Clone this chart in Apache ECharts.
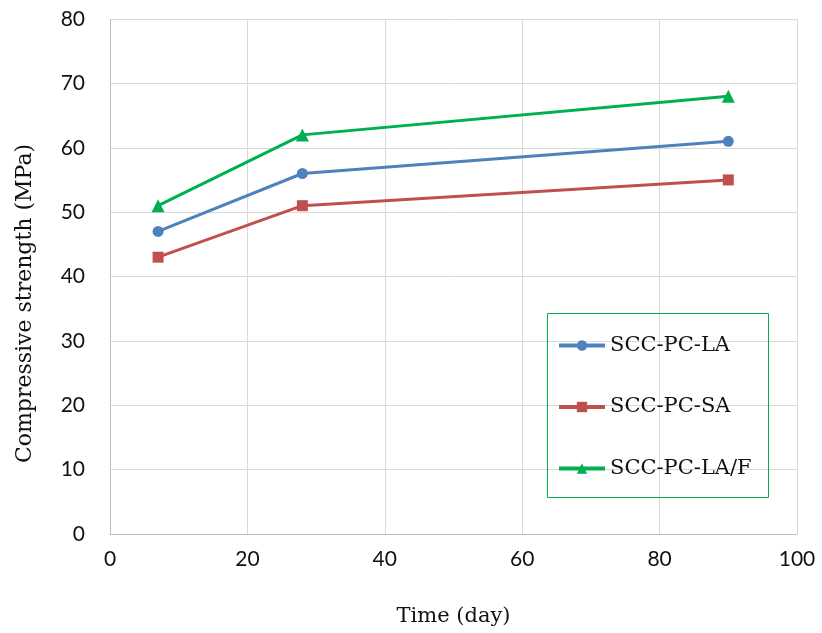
<!DOCTYPE html>
<html>
<head>
<meta charset="utf-8">
<script src="https://cdn.jsdelivr.net/npm/echarts@6/dist/echarts.min.js"></script>
<style>
  html, body { margin: 0; padding: 0; background: #fff; }
  #chart { width: 822px; height: 633px; }
</style>
</head>
<body>
<div id="chart"></div>
<script>
// Curing age (days) and compressive strength (MPa) of each mix
const days = [7, 28, 90];
const sccPcLa = [47, 56, 61];
const sccPcSa = [43, 51, 55];
const sccPcLaF = [51, 62, 68];
const seriesNames = ['SCC-PC-LA', 'SCC-PC-SA', 'SCC-PC-LA/F'];

const serif = '"DejaVu Serif", "Liberation Serif", serif';
const sans = 'Lato, "Liberation Sans", sans-serif';
const ink = '#111111';

const pairs = vals => days.map((d, i) => [d, vals[i]]);

const chart = echarts.init(document.getElementById('chart'));
chart.setOption({
  animation: false,
  backgroundColor: '#ffffff',
  grid: { left: 110, right: 25, top: 19, bottom: 99, containLabel: false, outerBoundsMode: 'none' },
  xAxis: {
    type: 'value', min: 0, max: 100, interval: 20,
    name: 'Time (day)', nameLocation: 'middle', nameGap: 72,
    nameTextStyle: { fontFamily: serif, fontSize: 21, color: ink },
    axisLine: { show: true, lineStyle: { color: '#bfbfbf', width: 1 } },
    axisTick: { show: false },
    axisLabel: { fontFamily: sans, fontSize: 21, color: ink, margin: 15 },
    splitLine: { show: true, lineStyle: { color: '#d9d9d9', width: 1 } }
  },
  yAxis: {
    type: 'value', min: 0, max: 80, interval: 10,
    name: 'Compressive strength (MPa)', nameLocation: 'middle', nameGap: 74,
    // the title sits slightly below the axis middle
    nameTextStyle: { fontFamily: serif, fontSize: 22, color: ink, padding: [0, 54, 0, 0] },
    axisLine: { show: true, lineStyle: { color: '#bfbfbf', width: 1 } },
    axisTick: { show: false },
    axisLabel: { fontFamily: sans, fontSize: 21, color: ink, margin: 25 },
    splitLine: { show: true, lineStyle: { color: '#d9d9d9', width: 1 } }
  },
  legend: {
    orient: 'vertical', left: 557, top: 335, padding: 0,
    itemWidth: 46, itemHeight: 13, itemGap: 40.5,
    lineStyle: { width: 4 },
    textStyle: { fontFamily: serif, fontSize: 21, color: ink },
    data: seriesNames
  },
  graphic: [{
    type: 'rect', left: 547, top: 313, z: 10,
    shape: { width: 221, height: 184 },
    style: { fill: 'transparent', stroke: '#00B050', lineWidth: 1 }
  }],
  series: [
    {
      name: seriesNames[0], type: 'line', data: pairs(sccPcLa),
      symbol: 'circle', symbolSize: 11,
      itemStyle: { color: '#4F81BD' }, lineStyle: { color: '#4F81BD', width: 3 }
    },
    {
      name: seriesNames[1], type: 'line', data: pairs(sccPcSa),
      symbol: 'rect', symbolSize: 11,
      itemStyle: { color: '#C0504D' }, lineStyle: { color: '#C0504D', width: 3 }
    },
    {
      name: seriesNames[2], type: 'line', data: pairs(sccPcLaF),
      symbol: 'triangle', symbolSize: 13,
      itemStyle: { color: '#00B050' }, lineStyle: { color: '#00B050', width: 3 }
    }
  ]
});
</script>
</body>
</html>
